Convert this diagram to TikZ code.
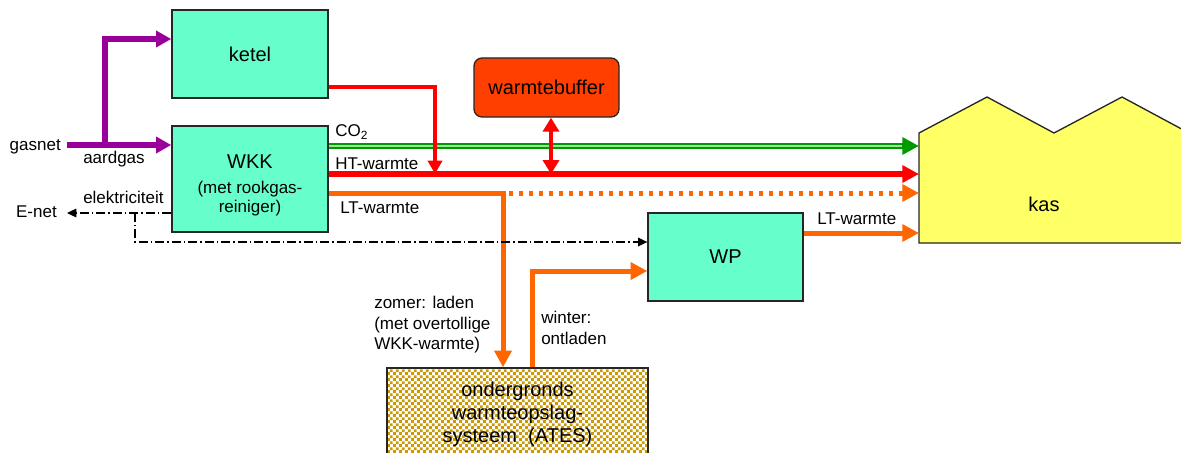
\documentclass[tikz,border=0pt]{standalone}
\usepackage{fontspec}
\setmainfont{Liberation Sans}
\usetikzlibrary{arrows.meta,patterns,calc}
\definecolor{boxc}{HTML}{66FFCC}
\definecolor{kasc}{HTML}{FFFF66}
\definecolor{bufc}{HTML}{FF3F00}
\definecolor{gasc}{HTML}{990099}
\definecolor{co2c}{HTML}{009900}
\definecolor{co2in}{HTML}{99E699}
\definecolor{htc}{HTML}{FF0000}
\definecolor{ltc}{HTML}{FF6600}
\definecolor{atesc}{HTML}{CC9900}
\newcommand\fbig{\fontsize{15}{17.6}\selectfont}
\newcommand\fsmall{\fontsize{12.75}{15.4}\selectfont}
\pgfdeclarepatternformonly{atescheck}{\pgfqpoint{0pt}{0pt}}{\pgfqpoint{4.4pt}{4.4pt}}{\pgfqpoint{4.4pt}{4.4pt}}{%
  \pgfpathrectangle{\pgfqpoint{0pt}{0pt}}{\pgfqpoint{2.2pt}{2.2pt}}%
  \pgfpathrectangle{\pgfqpoint{2.2pt}{2.2pt}}{\pgfqpoint{2.2pt}{2.2pt}}%
  \pgfusepath{fill}}
\begin{document}
\begin{tikzpicture}[x=0.75pt, y=-0.75pt,
  box/.style={draw=black!85, line width=1pt, fill=boxc, inner sep=0pt, font=\fbig},
  lbl/.style={inner sep=0pt, font=\fsmall},
  bigtip/.style={-{Triangle[length=12.5pt,width=12.5pt]}},
  gasline/.style={draw=gasc, line width=4.3pt},
  htline/.style={draw=htc, line width=4.3pt},
  ketline/.style={draw=htc, line width=2.6pt},
  ltline/.style={draw=ltc, line width=3.75pt},
  co2line/.style={draw=co2c, line width=4pt},
  co2core/.style={draw=co2in, line width=1.4pt},
  elline/.style={draw=black, line width=0.9pt, dash pattern=on 6.75pt off 2.25pt on 1.1pt off 2.25pt},
  eltip/.style={-{Triangle[length=7pt,width=6.5pt]}},
  ltdots/.style={dash pattern=on 3pt off 4.5pt, dash phase=3pt}
]
\useasboundingbox (0,0) rectangle (1181,453);
\clip (0,0) rectangle (1181,453);

% level coordinates
\coordinate (ygas) at (0,145);
\coordinate (ygas2) at (0,39);
\coordinate (yco) at (0,146);
\coordinate (yht) at (0,174);
\coordinate (ylt) at (0,193);
\coordinate (yel) at (0,213);
\coordinate (ywp) at (0,242);
\coordinate (ywin) at (0,271);
\coordinate (ylt2) at (0,233);
\coordinate (yk) at (0,87);
\coordinate (jgas) at (105,145);
\coordinate (jk) at (435,174);
\coordinate (jlt) at (503,193);
\coordinate (jbuf) at (551,174);
\coordinate (jel) at (135,213);
\coordinate (jwin) at (532,272);
\coordinate (kasw) at (919,188);

% kas shape
\draw[draw=black!85, line width=1pt, fill=kasc] (919,243) -- (919,133) -- (987,97) -- (1054,133) -- (1122,97) -- (1189,133) -- (1189,243) -- cycle;
\node[font=\fbig, inner sep=0pt] (kas) at (1044,204) {kas};

% boxes
\node[box, minimum width={156*0.75pt}, minimum height={88*0.75pt}] (ketel) at (250,54) {ketel};
\node[box, minimum width={156*0.75pt}, minimum height={106*0.75pt}] (wkk) at (250,179) {};
\node[font=\fbig, inner sep=0pt, anchor=base] (wkkt) at (250,168) {WKK};
\node[font=\fontsize{12.75}{14.4}\selectfont, inner sep=0pt, align=center, anchor=north] (wkks) at (250,181) {(met rookgas-\\reiniger)};
\node[box, fill=bufc, rounded corners=6pt, minimum width={145*0.75pt}, minimum height={59*0.75pt}] (buf) at (546.5,87.5) {warmtebuffer};
\node[box, minimum width={155*0.75pt}, minimum height={88*0.75pt}] (wp) at (725.5,257) {WP};
\node[draw=black!85, line width=1pt, preaction={fill=white}, pattern=atescheck, pattern color=atesc, minimum width={261*0.75pt}, minimum height={100*0.75pt}] (ates) at (517.5,418) {};
\node[font=\fontsize{15}{17.25}\selectfont, inner sep=0pt, align=center, anchor=north] (atest) at (517.5,381.6) {ondergronds\\warmteopslag-\\systeem\ \ (ATES)};

% labels
\node[lbl, anchor=base east, inner xsep=4.5pt] (gasnet) at (67,150) {gasnet};
\node[lbl, anchor=base west] (aardgas) at (83,163) {aardgas};
\node[lbl, anchor=base west] (elek) at (83,203) {elektriciteit};
\node[lbl, anchor=base east, inner xsep=7.5pt] (enet) at (67,217) {E-net};
\node[lbl, anchor=base west] (co2) at (335,137) {CO\textsubscript{2}};
\node[lbl, anchor=base west] (ht) at (335,169) {HT-warmte};
\node[lbl, anchor=base west] (lt) at (340,213) {LT-warmte};
\node[lbl, anchor=base west] (lt2) at (817,224) {LT-warmte};
\node[lbl, align=left, anchor=west] (zomer) at (374,325) {zomer: laden\\(met overtollige\\WKK-warmte)};
\node[lbl, align=left, anchor=west] (winter) at (541,328) {winter:\\ontladen};

% gas
\draw[gasline, -{Triangle[length=11.5pt,width=12pt]}] (gasnet.east |- ygas) -- (wkk.west |- ygas);
\draw[gasline, -{Triangle[length=11.5pt,width=12pt]}] (jgas) |- (ketel.west |- ygas2);

% CO2
\draw[co2line, bigtip] (wkk.east |- yco) -- (kasw |- yco);
\draw[co2core] (wkk.east |- yco) -- ($(kasw |- yco)+(-17,0)$);

% HT
\draw[htline, bigtip] (wkk.east |- yht) -- (kasw |- yht);
\draw[ketline, -{Triangle[length=10pt,width=10.5pt]}] (ketel.east |- yk) -| (jk);
\draw[draw=htc, line width=3.5pt, {Triangle[length=10.5pt,width=12pt]}-{Triangle[length=10.5pt,width=12pt]}] (buf.south -| jbuf) -- (jbuf);

% LT
\draw[ltline, bigtip] (wkk.east |- ylt) -- (jlt) -- (ates.north -| jlt);
\draw[ltline, ltdots, bigtip] (jlt) -- (kasw |- ylt);
\draw[ltline, bigtip] (ates.north -| jwin) |- (wp.west |- ywin);
\draw[ltline, bigtip] (wp.east |- ylt2) -- (kasw |- ylt2);

% electricity
\draw[elline, eltip] (wkk.west |- yel) -- (enet.east |- yel);
\draw[elline, eltip] (jel) |- (wp.west |- ywp);
\end{tikzpicture}
\end{document}
